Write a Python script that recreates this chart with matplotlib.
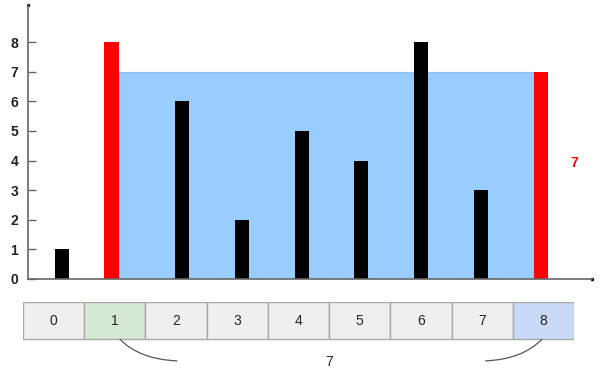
import numpy as np
import matplotlib.pyplot as plt
from matplotlib.patches import Rectangle, PathPatch
from matplotlib.path import Path

# dados do desenho
heights = [1, 8, 6, 2, 5, 4, 8, 3, 7]  # alturas das barras
positions = [0, 0.826, 2, 3, 4, 5, 6, 7, 8]  # posicao de cada barra no eixo x
left_idx = 1  # barra vermelha da esquerda
right_idx = 8  # barra vermelha da direita
water = 7  # altura da agua
indices = [str(i) for i in range(9)]  # rotulos do vetor
box_colors = ['#efefef', '#d5e8d4', '#efefef', '#efefef', '#efefef',
              '#efefef', '#efefef', '#efefef', '#c9daf8']
y_ticks = [0, 1, 2, 3, 4, 5, 6, 7, 8]

plt.rcParams['font.family'] = ['Liberation Sans', 'DejaVu Sans']
fig = plt.figure(figsize=(6, 3.75), dpi=100)

##Grafico de barras
ax = fig.add_axes([28/600, 1 - 279/375, 564/600, 274/375])
w = 0.235
x_l = positions[left_idx] + w/2
x_r = positions[right_idx] - w/2
ax.add_patch(Rectangle((x_l, 0), x_r - x_l, water, facecolor='#99ccff',
                       edgecolor='#8bc0f2', lw=0.8, zorder=1))
cores = ['red' if i in (left_idx, right_idx) else 'black' for i in range(len(heights))]
ax.bar(positions, heights, width=w, color=cores, zorder=2)
ax.set_xlim(-0.568, 8.85)
ax.set_ylim(0, 9.25)
ax.set_yticks(y_ticks)
ax.set_xticks([])
for s in ['top', 'right']:
    ax.spines[s].set_visible(False)
for s in ['left', 'bottom']:
    ax.spines[s].set_color('#666666')
    ax.spines[s].set_linewidth(1.2)
ax.tick_params(axis='y', direction='in', length=6, width=1, color='#666666',
               labelsize=10, pad=7, labelcolor='#222222')
for lab in ax.get_yticklabels():
    lab.set_fontweight('bold')
ax.plot([8.85], [0], 'k.', ms=3, clip_on=False)
ax.plot([-0.568], [9.25], 'k.', ms=3, clip_on=False)
ax.text(8.55, 3.92, str(water), color='red', fontsize=10, fontweight='bold',
        ha='center', va='center')

##Vetor embaixo
ax2 = fig.add_axes([23/600, 1 - 372/375, 551/600, 70/375])
ax2.set_xlim(0, 9)
ax2.set_ylim(-0.89, 1)
ax2.axis('off')
for i, lab in enumerate(indices):
    ax2.add_patch(Rectangle((i, 0), 1, 1, facecolor=box_colors[i],
                            edgecolor='#a8a8a8', lw=1))
    ax2.text(i + 0.5, 0.5, lab, ha='center', va='center', fontsize=10, color='#222222')

# curvas ligando os dois indices
curva1 = Path([(1.58, 0), (1.9, -0.55), (2.52, -0.59)],
              [Path.MOVETO, Path.CURVE3, Path.CURVE3])
curva2 = Path([(8.48, 0), (8.16, -0.55), (7.55, -0.59)],
              [Path.MOVETO, Path.CURVE3, Path.CURVE3])
for c in (curva1, curva2):
    ax2.add_patch(PathPatch(c, facecolor='none', edgecolor='#555555', lw=0.9))
ax2.text(5.0, -0.62, str(right_idx - left_idx), ha='center', va='center',
         fontsize=10, color='#222222')

plt.savefig('out.png', dpi=100)
